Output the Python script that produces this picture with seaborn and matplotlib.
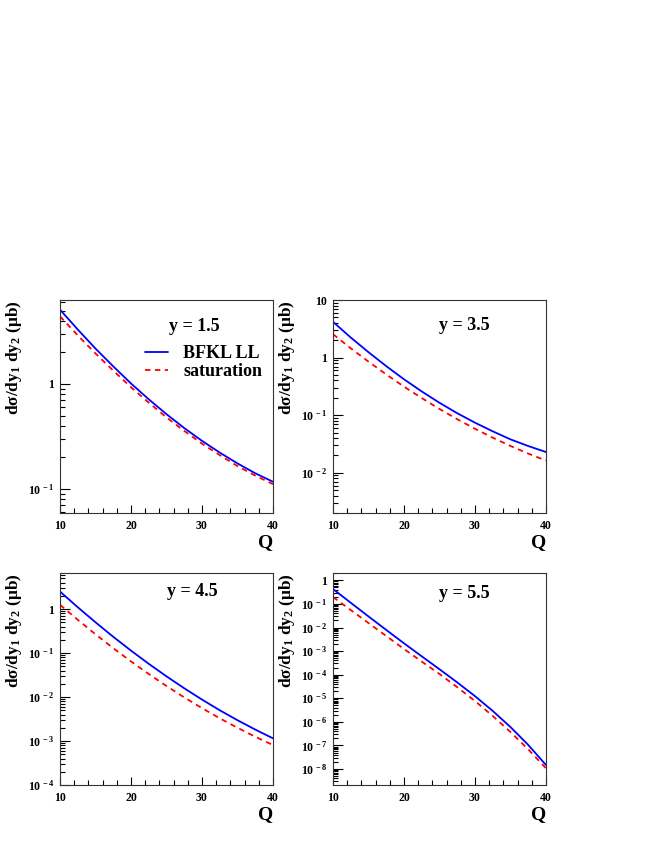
import numpy as np
import pandas as pd
import matplotlib
matplotlib.use("Agg")
import matplotlib.pyplot as plt
import seaborn as sns
from matplotlib.ticker import LogLocator, MultipleLocator, FuncFormatter, NullFormatter

# ---- data ----
Q = [10, 12.5, 15, 17.5, 20, 22.5, 25, 27.5, 30, 32.5, 35, 37.5, 40]

bfkl_y15 = [5.1, 3.3, 2.17, 1.47, 1.01, 0.714, 0.515, 0.380, 0.287, 0.222, 0.175, 0.141, 0.117]
sat_y15 = [4.4, 2.9, 1.95, 1.34, 0.93, 0.664, 0.48, 0.357, 0.270, 0.210, 0.165, 0.134, 0.111]

bfkl_y35 = [4.18, 2.23, 1.24, 0.71, 0.42, 0.258, 0.164, 0.108, 0.074, 0.0524, 0.038, 0.0291, 0.0229]
sat_y35 = [2.55, 1.45, 0.85, 0.51, 0.313, 0.198, 0.128, 0.0851, 0.058, 0.0406, 0.0292, 0.0215, 0.0163]

bfkl_y45 = [2.5, 1.10, 0.50, 0.234, 0.1135, 0.0569, 0.0295, 0.0158, 0.00875, 0.0050, 0.00297, 0.00182, 0.00115]
sat_y45 = [1.25, 0.57, 0.267, 0.129, 0.0645, 0.0334, 0.0178, 0.0098, 0.0056, 0.00328, 0.0020, 0.00125, 0.00081]

bfkl_y55 = [0.43, 0.112, 0.0295, 7.9e-3, 2.14e-3, 6.0e-4, 1.7e-4, 4.7e-5, 1.23e-5, 2.9e-6, 6.0e-7, 1.05e-7, 1.48e-8]
sat_y55 = [0.196, 0.055, 0.0155, 4.37e-3, 1.23e-3, 3.6e-4, 1.07e-4, 2.95e-5, 7.6e-6, 1.78e-6, 3.7e-7, 6.8e-8, 1.07e-8]

panel_titles = ["y = 1.5", "y = 3.5", "y = 4.5", "y = 5.5"]
legend_labels = ["BFKL LL", "saturation"]
ylabel = "d\u03c3/dy$_{1}$ dy$_{2}$ (\u03bcb)"
xlabel = "Q"

# ---- style ----
sns.set_style("white")
plt.rcParams["font.family"] = ["Liberation Serif", "DejaVu Serif"]
plt.rcParams["font.weight"] = "bold"
plt.rcParams["mathtext.fontset"] = "custom"
plt.rcParams["mathtext.rm"] = "Liberation Serif:bold"
plt.rcParams["mathtext.bf"] = "Liberation Serif:bold"
plt.rcParams["mathtext.it"] = "Liberation Serif:bold"
plt.rcParams["mathtext.default"] = "bf"
plt.rcParams["text.color"] = "black"
plt.rcParams["axes.labelcolor"] = "black"
plt.rcParams["xtick.color"] = "black"
plt.rcParams["ytick.color"] = "black"

fig = plt.figure(figsize=(6.54, 8.46), dpi=100)
W, H = 654, 846
def ax_at(x0, y0, x1, y1):
    return fig.add_axes([x0 / W, 1 - y1 / H, (x1 - x0) / W, (y1 - y0) / H])

axes = [
    ax_at(60, 300, 273, 513),
    ax_at(333, 300, 546, 513),
    ax_at(60, 573, 273, 785),
    ax_at(333, 573, 546, 785),
]
ylims = [(0.059, 6.3), (0.002, 10.0), (1e-4, 6.6), (2.1e-9, 2.05)]
series = [(bfkl_y15, sat_y15), (bfkl_y35, sat_y35), (bfkl_y45, sat_y45), (bfkl_y55, sat_y55)]
title_pos = [(0.63, 0.875), (0.615, 0.88), (0.62, 0.915), (0.615, 0.905)]

def fmt(v, pos):
    e = int(round(np.log10(v)))
    if e == 0:
        return "1"
    if e == 1:
        return "10"
    return "10$^{\\,%d}$" % e

for i, ax in enumerate(axes):
    b, s = series[i]
    df_b = pd.DataFrame({"Q": Q, "val": b})
    df_s = pd.DataFrame({"Q": Q, "val": s})
    sns.lineplot(data=df_b, x="Q", y="val", ax=ax, color="#0000ff", lw=1.3,
                 label=legend_labels[0] if i == 0 else None)
    sns.lineplot(data=df_s, x="Q", y="val", ax=ax, color="#ff0000", lw=1.3,
                 ls=(0, (3, 2.5)), label=legend_labels[1] if i == 0 else None)
    ax.set_yscale("log")
    ax.set_xlim(10, 40)
    ax.set_ylim(*ylims[i])
    ax.xaxis.set_major_locator(MultipleLocator(10))
    ax.xaxis.set_minor_locator(MultipleLocator(2))
    ax.yaxis.set_major_locator(LogLocator(base=10, numticks=20))
    ax.yaxis.set_minor_locator(LogLocator(base=10, subs=np.arange(2, 10), numticks=20))
    ax.yaxis.set_major_formatter(FuncFormatter(fmt))
    ax.yaxis.set_minor_formatter(NullFormatter())
    ax.tick_params(axis="both", which="both", direction="in", bottom=True, left=True,
                   top=False, right=False, labelsize=8.5, colors="black", width=0.8)
    ax.tick_params(axis="x", which="major", length=6, pad=5)
    ax.tick_params(axis="x", which="minor", length=3.5)
    ax.tick_params(axis="y", which="major", length=7, pad=4)
    ax.tick_params(axis="y", which="minor", length=3.5)
    for lab in ax.get_xticklabels() + ax.get_yticklabels():
        lab.set_fontweight("bold")
    for sp in ax.spines.values():
        sp.set_linewidth(0.8)
        sp.set_color("#333333")
    ax.set_ylabel(ylabel, fontsize=12.5, fontweight="bold", loc="top")
    ax.yaxis.set_label_coords(-0.17, 1.0)
    ax.set_xlabel(xlabel, fontsize=14, fontweight="bold", loc="right")
    ax.xaxis.set_label_coords(1.0, -0.10)
    ax.text(title_pos[i][0], title_pos[i][1], panel_titles[i], transform=ax.transAxes,
            ha="center", va="center", fontsize=13, fontweight="bold")
    if i == 0:
        ax.legend(loc="upper left", bbox_to_anchor=(0.366, 0.823), frameon=False,
                  fontsize=13, handlelength=1.25, handletextpad=0.85, labelspacing=0.05,
                  borderaxespad=0)
    else:
        leg = ax.get_legend()
        if leg is not None:
            leg.remove()

fig.savefig("out.png", dpi=100)
